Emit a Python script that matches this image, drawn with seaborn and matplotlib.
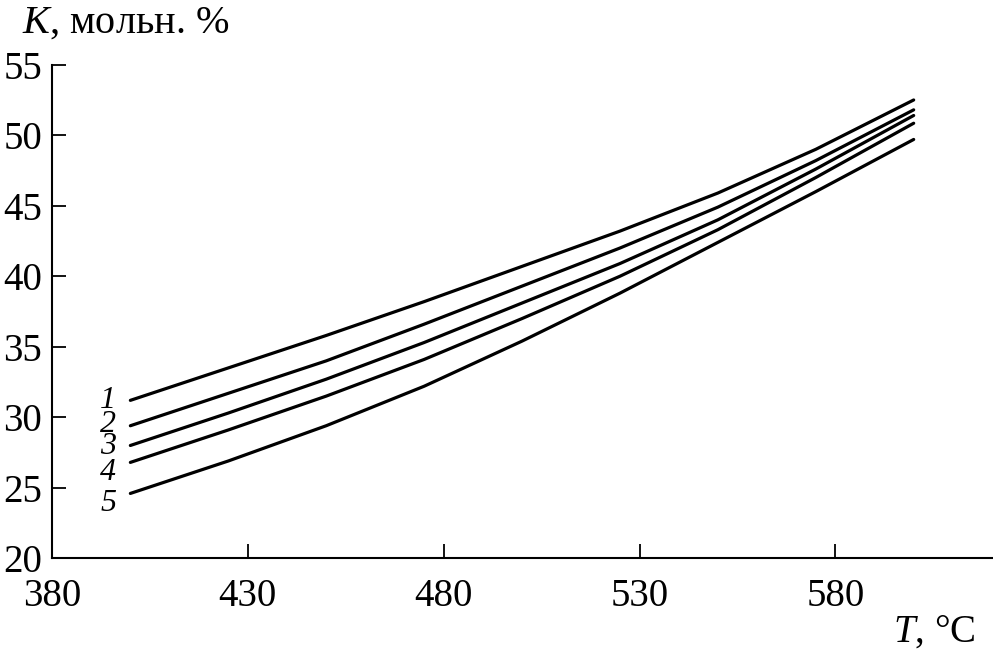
import pandas as pd
import matplotlib.pyplot as plt
import seaborn as sns

sns.set_style("ticks")
plt.rcParams['font.family'] = ['Liberation Serif', 'DejaVu Serif']
plt.rcParams['mathtext.fontset'] = 'custom'
plt.rcParams['mathtext.rm'] = 'Liberation Serif'
plt.rcParams['mathtext.it'] = 'Liberation Serif:italic'
plt.rcParams['text.color'] = 'black'
plt.rcParams['axes.labelcolor'] = 'black'
plt.rcParams['xtick.color'] = 'black'
plt.rcParams['ytick.color'] = 'black'
plt.rcParams['axes.edgecolor'] = 'black'

# Температура, °C
temps = [400, 425, 450, 475, 500, 525, 550, 575, 600]
# Кривые 1-5, K, мольн. %
k1 = [31.2, 33.5, 35.8, 38.2, 40.7, 43.2, 45.9, 49.0, 52.5]
k2 = [29.4, 31.7, 34.0, 36.6, 39.3, 42.0, 44.9, 48.2, 51.8]
k3 = [28.0, 30.3, 32.7, 35.3, 38.1, 40.9, 44.0, 47.6, 51.4]
k4 = [26.8, 29.1, 31.5, 34.1, 37.0, 40.0, 43.3, 47.0, 50.85]
k5 = [24.6, 26.9, 29.4, 32.2, 35.4, 38.8, 42.4, 46.0, 49.7]
curve_names = ['1', '2', '3', '4', '5']
label_y = [31.2, 29.5, 27.9, 26.1, 23.9]
x_ticks = [380, 430, 480, 530, 580]
y_ticks = [20, 25, 30, 35, 40, 45, 50, 55]

rows = []
for name, vals in zip(curve_names, [k1, k2, k3, k4, k5]):
    for t, v in zip(temps, vals):
        rows.append({'T': t, 'K': v, 'curve': name})
df = pd.DataFrame(rows)

fig = plt.figure(figsize=(9.93, 6.59), dpi=100)
ax = fig.add_axes([0.0524, 0.1528, 0.9466, 0.749])

sns.lineplot(data=df, x='T', y='K', hue='curve', palette=['black'] * 5,
             linewidth=2.3, legend=False, ax=ax)

# подписи кривых
for name, yv in zip(curve_names, label_y):
    ax.text(394.3, yv, name, style='italic', fontsize=23, ha='center', va='center')

ax.set_xlim(380, 620)
ax.set_ylim(20, 55)
ax.set_xticks(x_ticks)
ax.set_yticks(y_ticks)
ax.tick_params(direction='in', length=10, width=1.3, labelsize=28)
ax.tick_params(axis='x', pad=14)
ax.tick_params(axis='y', pad=7)
sns.despine(ax=ax)
for s in ['left', 'bottom']:
    ax.spines[s].set_linewidth(1.5)

ax.set_xlabel(r'$T$, °C', fontsize=28, va='center')
ax.xaxis.set_label_coords(0.939, -0.149)
ax.set_ylabel(r'$K$, мольн. %', fontsize=29, rotation=0, va='center', ha='center')
ax.yaxis.set_label_coords(0.078, 1.084)

plt.savefig('out.png', dpi=100)
plt.close()
